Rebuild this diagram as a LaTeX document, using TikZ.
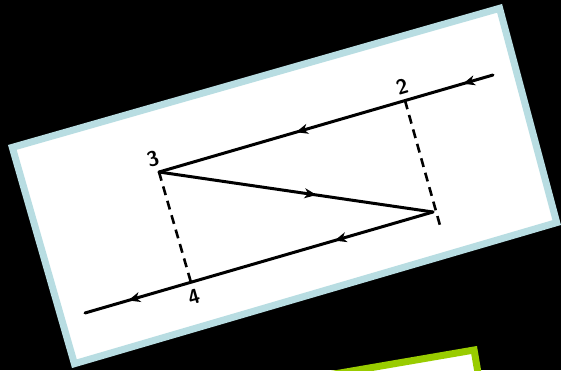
\documentclass[tikz,border=0pt]{standalone}
\usetikzlibrary{arrows.meta,decorations.markings}
\definecolor{cardblue}{RGB}{184,221,226}
\definecolor{cardgreen}{RGB}{153,204,0}
\begin{document}
\begin{tikzpicture}[x=1pt,y=-1pt,
  card/.style={line width=7pt, fill=white, line join=miter},
  ray/.style={line width=3pt, line cap=round, black},
  dashline/.style={line width=2.6pt, black, dash pattern=on 9pt off 6pt},
  lbl/.style={font=\sffamily\bfseries\fontsize{21}{21}\selectfont, inner sep=0pt, rotate=16}
]
\useasboundingbox (0,0) rectangle (561,370);
\fill[black] (0,0) rectangle (561,370);
\begin{scope}
\clip (0,0) rectangle (561,370);
% green card (partly visible)
\draw[card, draw=cardgreen] (474.1,350) -- (227.6,392.3) -- (237.7,451.5) -- (484.2,409.2) -- cycle;
% blue card
\draw[card, draw=cardblue] (12.3,147.4) -- (499.6,8.3) -- (556.7,222.6) -- (74.4,363.7) -- cycle;
\end{scope}
% points
\coordinate (E) at (493,75);
\coordinate (P2) at (405,100.5);
\coordinate (P3) at (159,172);
\coordinate (V) at (433,212);
\coordinate (P4) at (191,282.5);
\coordinate (W) at (85,313);
\coordinate (D) at (441,229);
% dashed perpendiculars
\draw[dashline] (P3) -- (P4);
\draw[dashline] (P2) -- (D);
% solid path with arrows
\draw[ray, postaction={decorate}, decoration={markings,
   mark=at position 0.09 with {\arrow{Stealth[length=12pt,width=10pt,inset=3.5pt]}},
   mark=at position 0.59 with {\arrow{Stealth[length=12pt,width=10pt,inset=3.5pt]}}}] (E) -- (P3);
\draw[ray, postaction={decorate}, decoration={markings,
   mark=at position 0.575 with {\arrow{Stealth[length=12pt,width=10pt,inset=3.5pt]}}}] (P3) -- (V);
\draw[ray, postaction={decorate}, decoration={markings,
   mark=at position 0.283 with {\arrow{Stealth[length=12pt,width=10pt,inset=3.5pt]}},
   mark=at position 0.876 with {\arrow{Stealth[length=12pt,width=10pt,inset=3.5pt]}}}] (V) -- (W);
% labels
\node[lbl] (l2) at (402,87) {2};
\node[lbl] (l3) at (153,159) {3};
\node[lbl] (l4) at (194,297) {4};
\end{tikzpicture}
\end{document}
